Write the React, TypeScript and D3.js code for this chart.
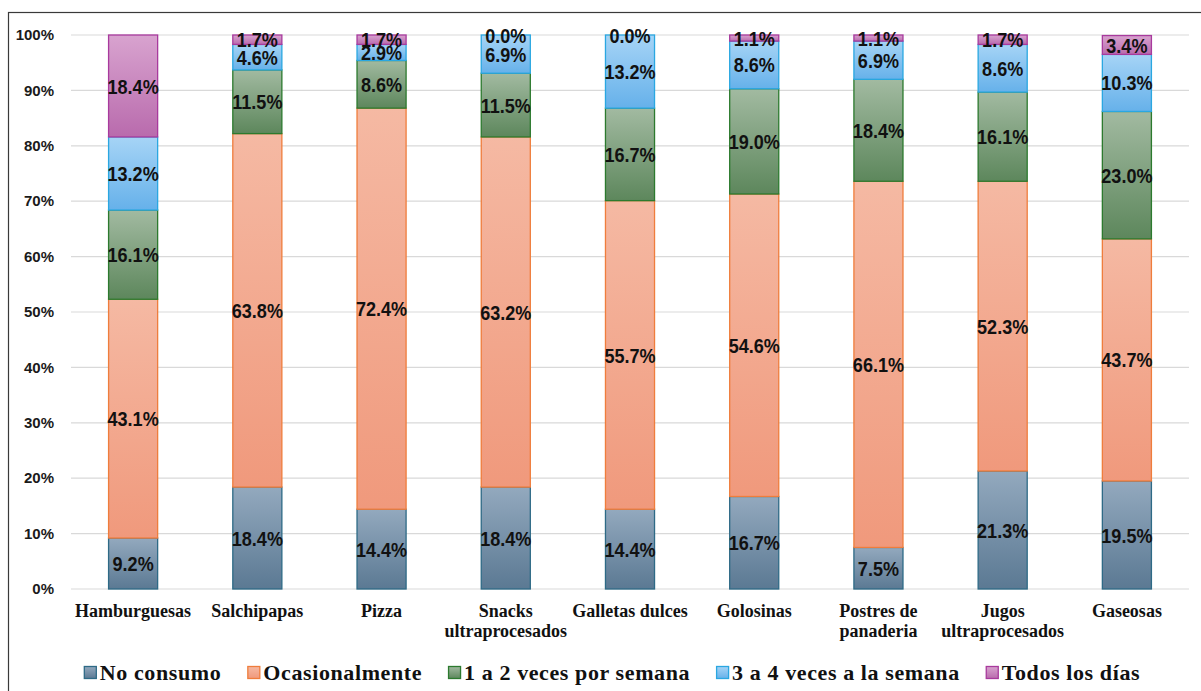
import React, { useEffect, useRef } from "react";
import * as d3 from "d3";

const categories: string[][] = [
  ["Hamburguesas"],
  ["Salchipapas"],
  ["Pizza"],
  ["Snacks", "ultraprocesados"],
  ["Galletas dulces"],
  ["Golosinas"],
  ["Postres de", "panaderia"],
  ["Jugos", "ultraprocesados"],
  ["Gaseosas"],
];

const seriesNames = [
  "No consumo",
  "Ocasionalmente",
  "1 a 2 veces por semana",
  "3 a 4 veces a la semana",
  "Todos los días",
];

const noConsumo = [9.2, 18.4, 14.4, 18.4, 14.4, 16.7, 7.5, 21.3, 19.5];
const ocasionalmente = [43.1, 63.8, 72.4, 63.2, 55.7, 54.6, 66.1, 52.3, 43.7];
const unoADos = [16.1, 11.5, 8.6, 11.5, 16.7, 19.0, 18.4, 16.1, 23.0];
const tresACuatro = [13.2, 4.6, 2.9, 6.9, 13.2, 8.6, 6.9, 8.6, 10.3];
const todosLosDias = [18.4, 1.7, 1.7, 0.0, 0.0, 1.1, 1.1, 1.7, 3.4];

const yTicks = [0, 10, 20, 30, 40, 50, 60, 70, 80, 90, 100];

const palette = [
  { top: "#93a9be", bottom: "#5b7993", stroke: "#2e6a86" },
  { top: "#f5b9a3", bottom: "#f0997c", stroke: "#ef7d3c" },
  { top: "#a2baa1", bottom: "#5d875c", stroke: "#2c7a2e" },
  { top: "#a6d4f6", bottom: "#66b1ea", stroke: "#2aa7e1" },
  { top: "#d8a3cf", bottom: "#b96bad", stroke: "#a83a9d" },
];

const labelFont = "'Liberation Sans', Arial, sans-serif";
const serifFont = "'Liberation Serif', 'Times New Roman', serif";

export default function App() {
  const ref = useRef<SVGSVGElement | null>(null);

  useEffect(() => {
    const svg = d3.select(ref.current);
    svg.selectAll("*").remove();

    const W = 1201;
    const H = 691;
    const left = 71;
    const right = 1189;
    const top = 35;
    const bottom = 589;

    const series = [noConsumo, ocasionalmente, unoADos, tresACuatro, todosLosDias];
    const rows = categories.map((c, i) => {
      const r: any = { key: i };
      series.forEach((s, j) => (r["s" + j] = s[i]));
      return r;
    });
    const keys = series.map((_, j) => "s" + j);
    const stacked = d3.stack().keys(keys)(rows);

    const x = d3
      .scaleBand<number>()
      .domain(categories.map((_, i) => i))
      .range([left, right])
      .paddingInner(0.605)
      .paddingOuter(0.3025);
    const y = d3.scaleLinear().domain([0, 100]).range([bottom, top]);

    const defs = svg.append("defs");
    palette.forEach((p, j) => {
      const g = defs
        .append("linearGradient")
        .attr("id", "grad" + j)
        .attr("x1", 0)
        .attr("y1", 0)
        .attr("x2", 0)
        .attr("y2", 1);
      g.append("stop").attr("offset", "0%").attr("stop-color", p.top);
      g.append("stop").attr("offset", "100%").attr("stop-color", p.bottom);
    });

    svg.append("rect").attr("width", W).attr("height", H).attr("fill", "#ffffff");

    // outer frame
    svg
      .append("rect")
      .attr("x", 8.5)
      .attr("y", 12.5)
      .attr("width", 1205)
      .attr("height", 700)
      .attr("fill", "none")
      .attr("stroke", "#3a3a3a")
      .attr("stroke-width", 1.2);

    // gridlines
    svg
      .append("g")
      .selectAll("line")
      .data(yTicks)
      .join("line")
      .attr("x1", left)
      .attr("x2", right)
      .attr("y1", (d) => y(d))
      .attr("y2", (d) => y(d))
      .attr("stroke", "#d9d9d9")
      .attr("stroke-width", 1.2);

    // y tick labels
    svg
      .append("g")
      .selectAll("text")
      .data(yTicks)
      .join("text")
      .attr("x", 54)
      .attr("y", (d) => y(d))
      .attr("dy", "0.35em")
      .attr("text-anchor", "end")
      .attr("font-family", labelFont)
      .attr("font-weight", "bold")
      .attr("font-size", 15)
      .attr("fill", "#1a1a1a")
      .text((d) => d + "%");

    // bars
    stacked.forEach((layer, j) => {
      svg
        .append("g")
        .selectAll("rect")
        .data(layer)
        .join("rect")
        .attr("x", (d: any, i) => x(i)!)
        .attr("width", x.bandwidth())
        .attr("y", (d: any) => y(d[1]))
        .attr("height", (d: any) => Math.max(0, y(d[0]) - y(d[1])))
        .attr("fill", `url(#grad${j})`)
        .attr("stroke", palette[j].stroke)
        .attr("stroke-width", 1.3);
    });

    // value labels, horizontally condensed
    stacked.forEach((layer) => {
      svg
        .append("g")
        .selectAll("text")
        .data(layer)
        .join("text")
        .attr(
          "transform",
          (d: any, i) =>
            `translate(${x(i)! + x.bandwidth() / 2},${y((d[0] + d[1]) / 2)}) scale(0.86,1)`
        )
        .attr("dy", "0.36em")
        .attr("text-anchor", "middle")
        .attr("font-family", labelFont)
        .attr("font-weight", "bold")
        .attr("font-size", 21)
        .attr("fill", "#111111")
        .text((d: any) => (d[1] - d[0]).toFixed(1) + "%");
    });

    // category labels
    const cat = svg
      .append("g")
      .selectAll("text")
      .data(categories)
      .join("text")
      .attr("x", (d, i) => x(i)! + x.bandwidth() / 2)
      .attr("y", 617)
      .attr("text-anchor", "middle")
      .attr("font-family", serifFont)
      .attr("font-weight", "bold")
      .attr("font-size", 18)
      .attr("fill", "#111111");
    cat
      .selectAll("tspan")
      .data((d) => d)
      .join("tspan")
      .attr("x", function () {
        return (this.parentNode as SVGTextElement).getAttribute("x");
      })
      .attr("dy", (d, k) => (k === 0 ? 0 : 20))
      .text((d) => d);

    // legend
    const legend = svg.append("g");
    const items = seriesNames.map((name, j) => {
      const g = legend.append("g");
      g.append("rect")
        .attr("x", 0.5)
        .attr("y", -13.5)
        .attr("width", 12)
        .attr("height", 12)
        .attr("fill", `url(#grad${j})`)
        .attr("stroke", palette[j].stroke)
        .attr("stroke-width", 1.3);
      const t = g
        .append("text")
        .attr("x", 16)
        .attr("y", 0)
        .attr("font-family", serifFont)
        .attr("font-weight", "bold")
        .attr("font-size", 22)
        .attr("letter-spacing", 0.6)
        .attr("fill", "#111111")
        .text(name);
      const w = 16 + (t.node() as SVGTextElement).getComputedTextLength();
      return { g, w };
    });
    const gap = 26;
    const total = d3.sum(items, (d) => d.w) + gap * (items.length - 1);
    let cx = 612 - total / 2;
    items.forEach((it) => {
      it.g.attr("transform", `translate(${cx},${680})`);
      cx += it.w + gap;
    });
  }, []);

  return (
    <svg
      ref={ref}
      width={1201}
      height={691}
      style={{ display: "block", position: "absolute", left: 0, top: 0 }}
    />
  );
}
